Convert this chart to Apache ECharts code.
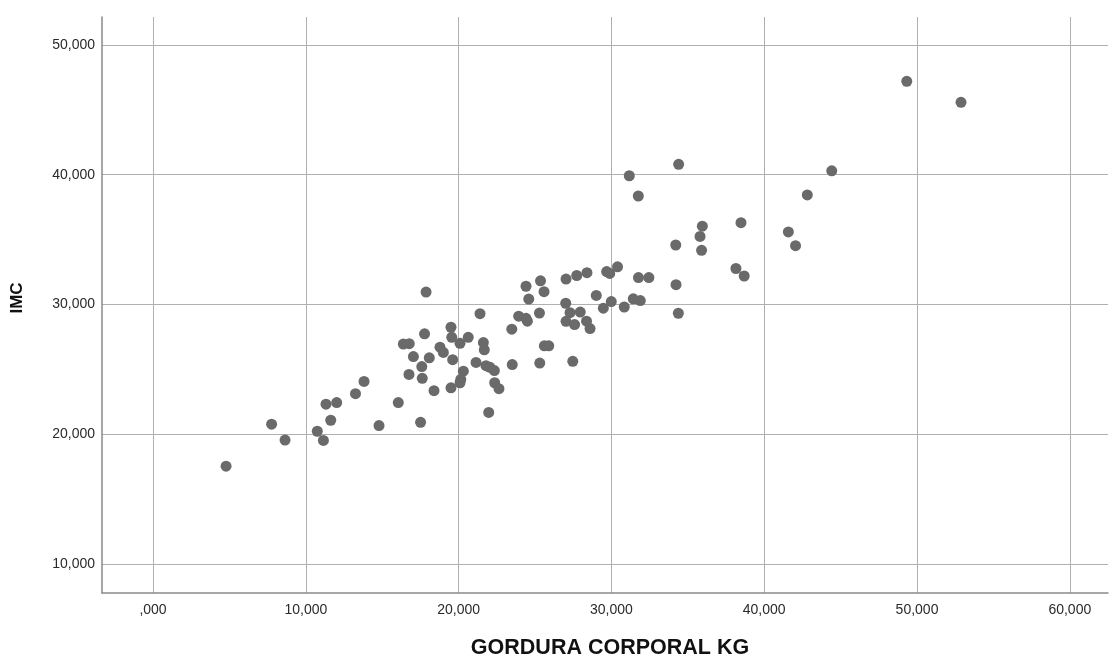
<!DOCTYPE html>
<html>
<head>
<meta charset="utf-8">
<script src="https://cdn.jsdelivr.net/npm/echarts@6/dist/echarts.min.js"></script>
<style>
  html, body { margin: 0; padding: 0; background: #fff; overflow: hidden; }
  #chart { width: 1110px; height: 664px; }
</style>
</head>
<body>
<div id="chart"></div>
<script>
// Body fat mass (kg) against BMI for each subject
const gordura = [4.78,7.76,8.64,10.75,11.15,11.32,12.02,11.63,13.25,13.81,
  14.79,16.05,17.51,17.87,17.77,16.38,16.77,17.04,18.08,17.59,
  16.75,17.62,18.39,19.50,19.55,20.09,20.63,18.78,19.00,19.61,
  20.31,20.14,20.09,19.50,21.40,21.62,21.68,21.14,21.79,22.05,
  22.34,22.36,22.64,21.97,23.48,23.51,23.93,24.41,24.50,24.59,
  24.41,25.36,25.59,25.29,25.61,25.90,25.31,27.03,27.73,28.40,
  29.69,29.89,30.40,31.77,32.45,29.01,27.01,29.99,29.47,30.84,
  31.43,31.89,27.29,27.96,27.03,27.59,28.37,28.60,27.47,34.23,
  34.38,31.17,31.76,34.40,34.21,35.95,35.80,35.90,38.48,38.15,
  38.69,41.58,42.05,42.82,44.42,49.33,52.88];
const imc = [17.53,20.77,19.54,20.22,19.51,22.31,22.43,21.07,23.12,24.06,
  20.66,22.43,20.91,30.95,27.73,26.94,26.97,25.98,25.88,25.21,
  24.60,24.30,23.35,28.24,27.46,27.00,27.46,26.70,26.30,25.74,
  24.85,24.22,23.96,23.57,29.29,27.06,26.50,25.53,25.28,25.15,
  24.90,23.96,23.50,21.67,28.09,25.36,29.09,28.93,28.71,30.41,
  31.40,31.82,30.98,29.33,26.81,26.81,25.48,31.95,32.23,32.45,
  32.53,32.39,32.90,32.07,32.07,30.69,30.09,30.22,29.71,29.80,
  30.43,30.30,29.36,29.41,28.70,28.45,28.71,28.14,25.61,31.52,
  29.32,39.92,38.36,40.80,34.58,36.03,35.24,34.17,36.30,32.77,
  32.19,35.59,34.53,38.44,40.30,47.20,45.58];

const xTicks = [0, 10, 20, 30, 40, 50, 60];
const yTicks = [10, 20, 30, 40, 50];
const xTitle = 'GORDURA CORPORAL KG';
const yTitle = 'IMC';

// Decimal comma with three places, leading zero dropped for zero
function fmt(v) {
  if (v === 0) return ',000';
  return v.toFixed(3).replace('.', ',');
}

const points = gordura.map((g, i) => [g, imc[i]]);

const chart = echarts.init(document.getElementById('chart'), null, { renderer: 'canvas' });
const FONT = '"Liberation Sans", Arial, sans-serif';

chart.setOption({
  animation: false,
  backgroundColor: '#ffffff',
  grid: { left: 102, right: 2, top: 17, bottom: 65, containLabel: false },
  xAxis: {
    type: 'value',
    min: -3.34,
    max: 62.5,
    name: xTitle,
    nameLocation: 'middle',
    nameGap: 44,
    nameTextStyle: { fontFamily: FONT, fontSize: 21.5, fontWeight: 'bold', color: '#111', padding: [0, 0, 0, 10] },
    axisLine: { show: true, onZero: false, lineStyle: { color: '#8a8a8a', width: 1.5 } },
    axisTick: { show: false, customValues: xTicks },
    axisLabel: {
      customValues: xTicks,
      formatter: fmt,
      margin: 10,
      fontFamily: FONT,
      fontSize: 14,
      color: '#2a2a2a'
    },
    splitLine: { show: true, lineStyle: { color: '#b0b0b0', width: 1 } }
  },
  yAxis: {
    type: 'value',
    min: 7.75,
    max: 52.16,
    name: yTitle,
    nameLocation: 'middle',
    nameGap: 76,
    nameRotate: 90,
    nameTextStyle: { fontFamily: FONT, fontSize: 17, fontWeight: 'bold', color: '#111', padding: [0, 0, 0, 14] },
    axisLine: { show: true, onZero: false, lineStyle: { color: '#8a8a8a', width: 1.5 } },
    axisTick: { show: false, customValues: yTicks },
    axisLabel: {
      customValues: yTicks,
      formatter: fmt,
      margin: 7,
      fontFamily: FONT,
      fontSize: 14,
      color: '#2a2a2a'
    },
    splitLine: { show: true, lineStyle: { color: '#b0b0b0', width: 1 } }
  },
  series: [{
    type: 'scatter',
    data: points,
    symbol: 'circle',
    symbolSize: 11,
    itemStyle: { color: '#6a6a6a', opacity: 1 }
  }]
});
</script>
</body>
</html>
